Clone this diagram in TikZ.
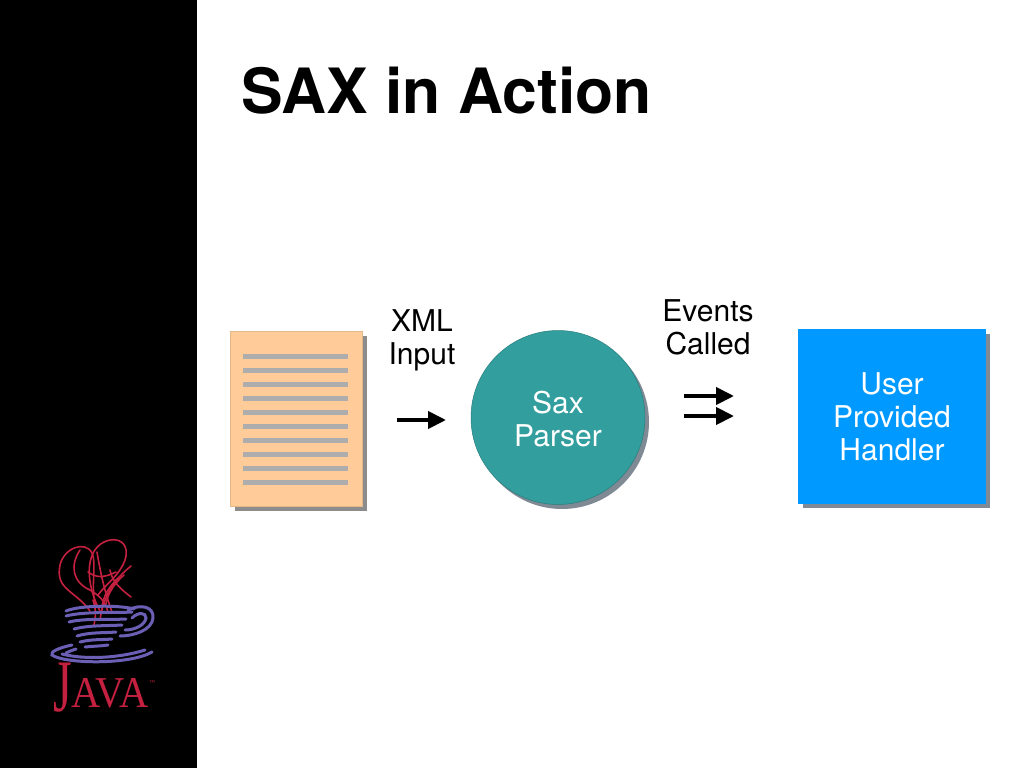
\documentclass[tikz,border=0pt]{standalone}
\usepackage{fontspec}
\setmainfont{TeX Gyre Heros}
\newfontfamily\logofont{Liberation Serif}
\usetikzlibrary{arrows.meta}
\definecolor{sidebar}{HTML}{000000}
\definecolor{pagefill}{HTML}{FFCC99}
\definecolor{pageline}{HTML}{ADADAD}
\definecolor{pageshadow}{HTML}{8C8C8C}
\definecolor{parserfill}{HTML}{339E9E}
\definecolor{handlerfill}{HTML}{0099FF}
\definecolor{handlershadow}{HTML}{7F8A94}
\definecolor{steamred}{HTML}{C4203F}
\definecolor{cupblue}{HTML}{6A5FB4}
\newcommand{\bodyfont}{\fontsize{30}{33}\selectfont}
\tikzset{
    label/.style={align=center, inner sep=0pt, font=\bodyfont},
    flow/.style={line width=4pt, -{Triangle[length=18pt,width=17pt]}},
    steam/.style={draw=steamred, line width=1.6pt, line cap=round},
    cup/.style={draw=cupblue, line width=3pt, line cap=round},
}
\begin{document}
\begin{tikzpicture}[x=1pt,y=-1pt]
    \useasboundingbox (0,0) rectangle (1024,768);
    \fill[white] (0,0) rectangle (1024,768);
    \fill[sidebar] (0,0) rectangle (197,768);
    \node[anchor=base west, inner sep=0pt, font=\fontsize{62.4}{62.4}\selectfont\bfseries] (title) at (241,113) {SAX in Action};
    % document
    \fill[pageshadow] (235,336) rectangle (367,511);
    \node[draw=pagefill!90!black, line width=0.5pt, fill=pagefill, minimum width=132pt, minimum height=175pt, inner sep=0pt] (doc) at (296,418.5) {};
    \foreach \i in {0,...,9}
        \fill[pageline] (243,{353.5+14*\i}) rectangle (348,{358.5+14*\i});
    % parser
    \fill[handlershadow] (562,422) circle (87);
    \node[circle, draw=parserfill!80!black, line width=0.5pt, fill=parserfill, minimum size=174pt, inner sep=0pt] (parser) at (558,417.5) {};
    \node[label, text=white] (parserlabel) at (558,419) {Sax\\Parser};
    % handler
    \fill[handlershadow] (803,334) rectangle (990,508);
    \node[fill=handlerfill, minimum width=188pt, minimum height=175pt, inner sep=0pt, label, text=white] (handler) at (892,416.5) {User\\Provided\\Handler};
    % labels
    \node[label] (xml) at (422,340.5) {XML\\Input};
    \node[label] (events) at (708,327.5) {Events\\Called};
    % arrows
    \coordinate (inA) at (397,420);
    \coordinate (inB) at (446,420);
    \coordinate (evA) at (684,396);
    \coordinate (evB) at (734,396);
    \coordinate (evC) at (684,416);
    \coordinate (evD) at (734,416);
    \draw[flow] (inA) -- (inB);
    \draw[flow] (evA) -- (evB);
    \draw[flow] (evC) -- (evD);
    % logo steam
    \draw[steam] (90,611) .. controls (75,590) and (55,590) .. (60,565) .. controls (64,548) and (85,540) .. (92,553) .. controls (97,565) and (90,590) .. (96,605);
    \draw[steam] (100,611) .. controls (86,585) and (84,552) .. (104,542) .. controls (120,535) and (130,545) .. (125,560) .. controls (120,575) and (105,585) .. (98,595);
    \draw[steam] (80,550) .. controls (70,565) and (72,582) .. (90,590) .. controls (98,595) and (105,600) .. (108,612);
    \draw[steam] (97,552) .. controls (100,570) and (104,590) .. (112,612);
    \draw[steam] (131,566) .. controls (120,575) and (104,590) .. (100,620);
    \draw[steam] (110,570) .. controls (112,582) and (122,590) .. (131,597);
    \draw[steam] (88,572) .. controls (96,578) and (104,578) .. (116,572);
    \draw[steam] (93,600) .. controls (96,610) and (96,615) .. (94,625);
    \draw[steam] (124,575) .. controls (116,582) and (108,592) .. (106,604);
    \draw[steam] (118,578) .. controls (110,586) and (102,596) .. (102,610);
    % logo cup
    \draw[cup] (66,611) .. controls (80,605) and (120,605) .. (134,609);
    \draw[cup] (66,616) .. controls (85,611) and (120,613) .. (132,612);
    \draw[cup] (69,622) .. controls (85,618) and (110,620) .. (126,619);
    \draw[cup] (74,629) .. controls (90,625) and (105,626) .. (122,625);
    \draw[cup] (77,636) .. controls (90,632) and (105,633) .. (116,632);
    \draw[cup] (80,642) .. controls (92,639) and (100,640) .. (112,639);
    \draw[cup] (85,647) .. controls (95,646) and (102,646) .. (108,645);
    \draw[cup] (128,610) .. controls (140,604) and (154,606) .. (153,618) .. controls (152,630) and (134,636) .. (120,636);
    \draw[cup] (132,618) .. controls (138,612) and (146,612) .. (146,618) .. controls (145,625) and (135,630) .. (125,630);
    \draw[cup] (72,645) .. controls (58,648) and (50,652) .. (52,655) .. controls (65,664) and (130,665) .. (152,652);
    \draw[cup] (62,654) .. controls (85,660) and (120,658) .. (145,650);
    \draw[cup] (76,649) .. controls (70,651) and (68,652) .. (66,653);
    % logo text
    \node[anchor=base west, inner sep=0pt, text=steamred, font=\logofont, xscale=0.65] (javaJ) at (53,711) {\fontsize{74}{74}\selectfont J};
    \node[anchor=base west, inner sep=0pt, text=steamred, font=\logofont, xscale=0.92] (javaA) at (71,707) {\fontsize{44}{44}\selectfont AVA};
    \node[anchor=base west, inner sep=0pt, text=steamred, font=\logofont] (javaT) at (149,684) {\fontsize{6}{6}\selectfont ™};
\end{tikzpicture}
\end{document}
